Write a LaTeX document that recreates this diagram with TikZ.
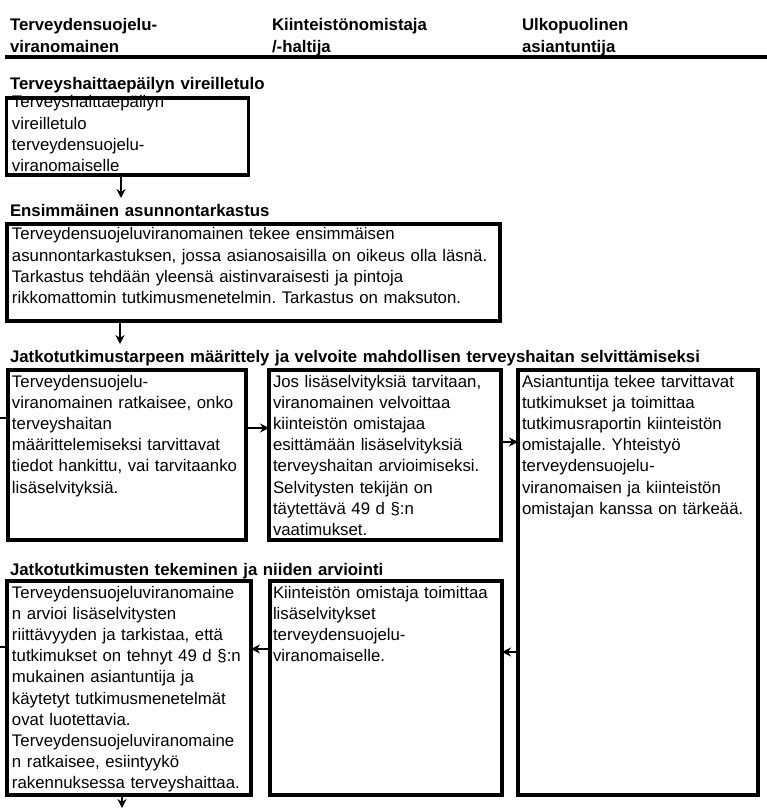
\documentclass[tikz,border=0pt]{standalone}
\usepackage{fontspec}
\setmainfont{Liberation Sans}
\usetikzlibrary{arrows.meta}
\frenchspacing
\begin{document}
\begin{tikzpicture}[x=1pt,y=-1pt,
  txt/.style={anchor=base west, inner sep=0pt, outer sep=0pt, align=left, text width=#1,
    font=\fontsize{16.8}{21.2}\selectfont\frenchspacing},
  txt/.default=250pt,
  hdr/.style={anchor=base west, inner sep=0pt, outer sep=0pt, align=left, text width=#1,
    font=\fontsize{16.8}{21.2}\selectfont\bfseries\frenchspacing},
  hdr/.default=250pt,
  box/.style={draw, line width=3.2pt, inner sep=0pt, outer sep=0pt, anchor=north west},
  arr/.style={-{Stealth[length=9pt,width=9pt,inset=3pt]}, line width=1.4pt},
  stub/.style={line width=1.4pt}
]
\useasboundingbox (0,0) rectangle (767,810);

% column headers
\node[hdr] (hA) at (10,31) {Terveydensuojelu-\\viranomainen};
\node[hdr] (hB) at (272,31) {Kiinteistönomistaja\\/-haltija};
\node[hdr] (hC) at (522,31) {Ulkopuolinen\\asiantuntija};
\coordinate (r0) at (5,57);
\coordinate (r1) at (767,57);
\draw[line width=4pt] (r0) -- (r1);

% section headings
\node[hdr=700pt] (s1) at (10,90) {Terveyshaittaepäilyn vireilletulo};
\node[hdr=700pt] (s2) at (10,216) {Ensimmäinen asunnontarkastus};
\node[hdr=740pt] (s3) at (10,362) {Jatkotutkimustarpeen määrittely ja velvoite mahdollisen terveyshaitan selvittämiseksi};
\node[hdr=700pt] (s4) at (10,575) {Jatkotutkimusten tekeminen ja niiden arviointi};

% texts
\node[txt] (t1) at (12,108) {Terveyshaittaepäilyn\\vireilletulo\\terveydensuojelu-\\viranomaiselle};
\node[txt=520pt] (t2) at (12,240) {Terveydensuojeluviranomainen tekee ensimmäisen\\asunnontarkastuksen, jossa asianosaisilla on oikeus olla läsnä.\\Tarkastus tehdään yleensä aistinvaraisesti ja pintoja\\rikkomattomin tutkimusmenetelmin. Tarkastus on maksuton.};
\node[txt] (t3) at (12,387) {Terveydensuojelu-\\viranomainen ratkaisee, onko\\terveyshaitan\\määrittelemiseksi tarvittavat\\tiedot hankittu, vai tarvitaanko\\lisäselvityksiä.};
\node[txt] (t4) at (273,387) {Jos lisäselvityksiä tarvitaan,\\viranomainen velvoittaa\\kiinteistön omistajaa\\esittämään lisäselvityksiä\\terveyshaitan arvioimiseksi.\\Selvitysten tekijän on\\täytettävä 49 d §:n\\vaatimukset.};
\node[txt] (t5) at (522,387) {Asiantuntija tekee tarvittavat\\tutkimukset ja toimittaa\\tutkimusraportin kiinteistön\\omistajalle. Yhteistyö\\terveydensuojelu-\\viranomaisen ja kiinteistön\\omistajan kanssa on tärkeää.};
\node[txt] (t6) at (12,598) {Terveydensuojeluviranomaine\\n arvioi lisäselvitysten\\riittävyyden ja tarkistaa, että\\tutkimukset on tehnyt 49 d §:n\\mukainen asiantuntija ja\\käytetyt tutkimusmenetelmät\\ovat luotettavia.\\Terveydensuojeluviranomaine\\n ratkaisee, esiintyykö\\rakennuksessa terveyshaittaa.};
\node[txt] (t7) at (273,598) {Kiinteistön omistaja toimittaa\\lisäselvitykset\\terveydensuojelu-\\viranomaiselle.};

% boxes
\node[box, minimum width=242pt, minimum height=77pt] (b1) at (6.5,98) {};
\node[box, minimum width=493pt, minimum height=97pt] (b2) at (7,224) {};
\node[box, minimum width=238pt, minimum height=170pt] (b3) at (8,370) {};
\node[box, minimum width=232pt, minimum height=170pt] (b4) at (269,370) {};
\node[box, minimum width=240pt, minimum height=425pt] (b5) at (518,370) {};
\node[box, minimum width=244pt, minimum height=214pt] (b6) at (7,581) {};
\node[box, minimum width=232pt, minimum height=214pt] (b7) at (270,581) {};

% connectors
\coordinate (e1) at (121,198);
\coordinate (e2) at (120,344);
\coordinate (e7) at (122,808);
\coordinate (y3) at (0,428);
\coordinate (y4) at (0,442);
\coordinate (y5) at (0,652);
\coordinate (y6) at (0,649);
\coordinate (k1) at (0,418);
\coordinate (k2) at (0,647);

\draw[arr] (b1.south -| e1) -- (e1);
\draw[arr] (b2.south -| e2) -- (e2);
\draw[arr] (b3.east |- y3) -- (b4.west |- y3);
\draw[arr] (b4.east |- y4) -- (b5.west |- y4);
\draw[arr] (b5.west |- y5) -- (b7.east |- y5);
\draw[arr] (b7.west |- y6) -- (b6.east |- y6);
\draw[arr] (b6.south -| e7) -- (e7);
\draw[stub] (k1) -- (b3.west |- k1);
\draw[stub] (k2) -- (b6.west |- k2);
\end{tikzpicture}
\end{document}
